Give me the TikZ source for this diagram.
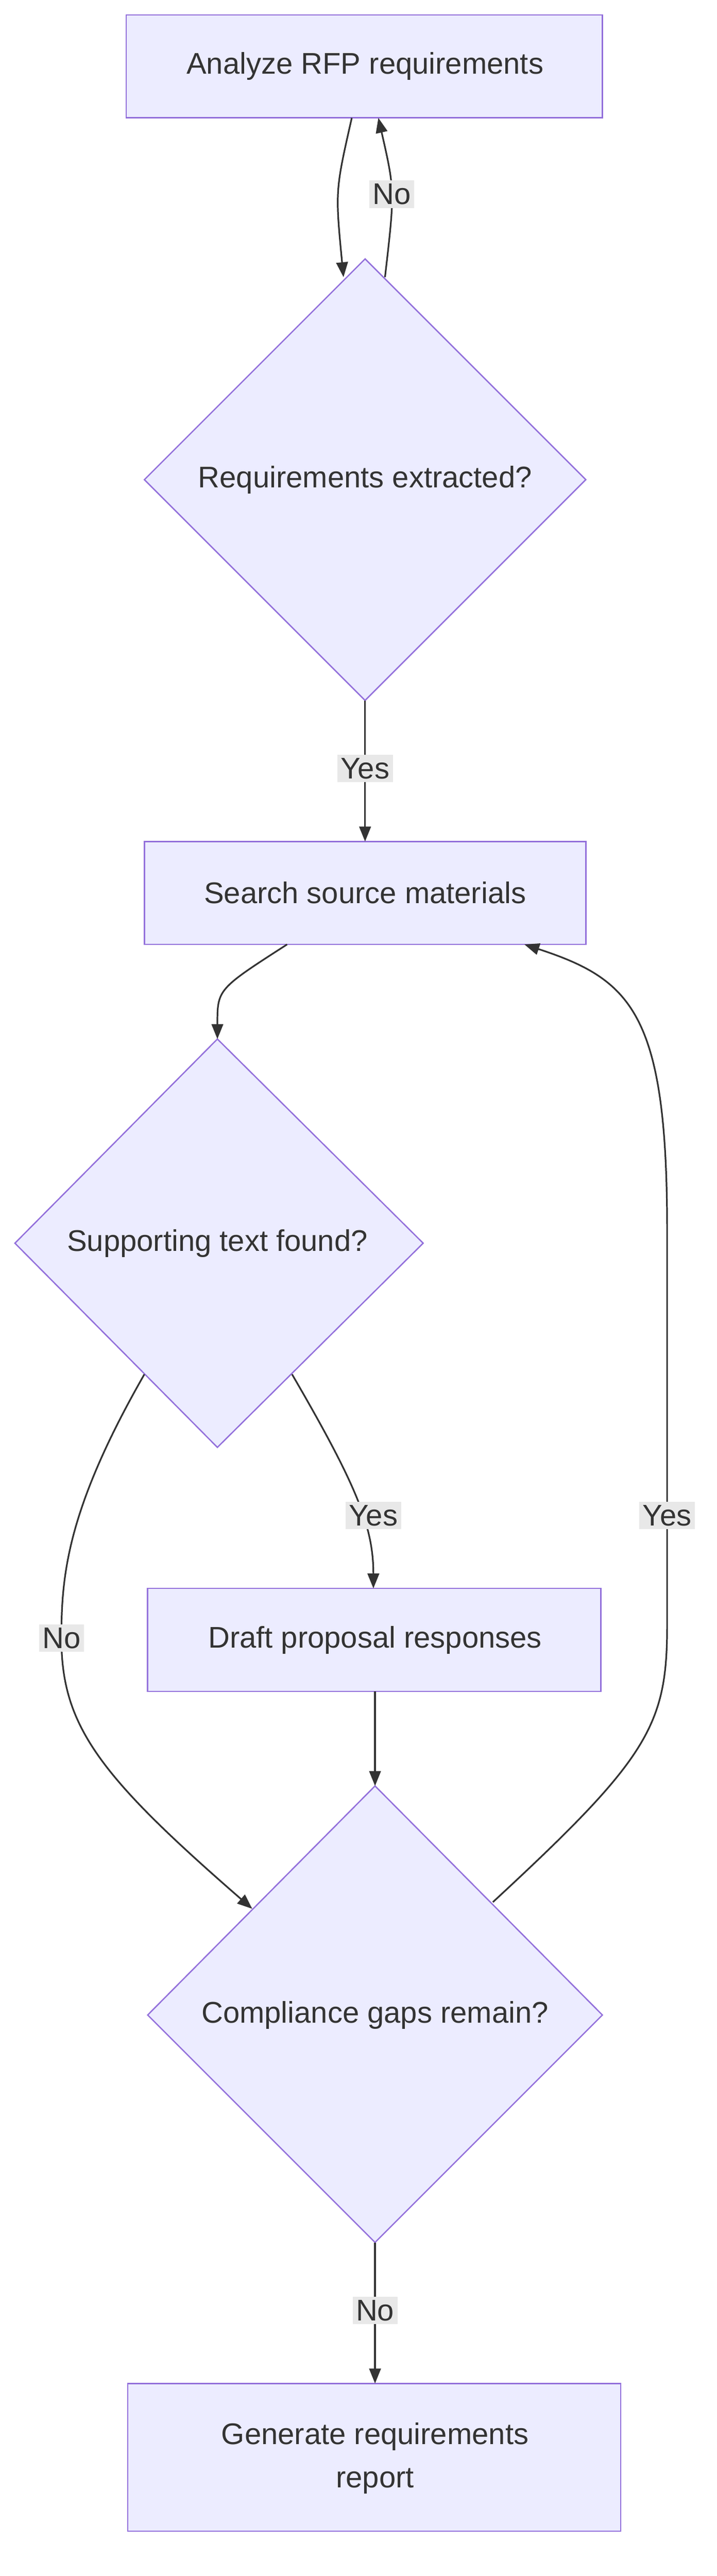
\documentclass[tikz,border=0pt]{standalone}
\usepackage{fontspec}
\setmainfont{Liberation Sans}
\usetikzlibrary{shapes.geometric,arrows.meta}
\definecolor{boxfill}{HTML}{ECECFF}
\definecolor{boxline}{HTML}{9370DB}
\definecolor{edge}{HTML}{333333}
\definecolor{lblbg}{HTML}{E8E8E8}
\begin{document}
\begin{tikzpicture}[x=1pt,y=-1pt,
  every node/.style={font=\fontsize{18}{26}\selectfont,text=edge},
  stage/.style={draw=boxline,fill=boxfill,line width=0.8pt,inner sep=0pt},
  lbl/.style={fill=lblbg,inner sep=2pt},
  flow/.style={draw=edge,line width=1pt,-{Triangle[length=9pt,width=7pt]}}]
  \useasboundingbox (0,0) rectangle (432,1552);

  % Steps
  \draw[stage] (76,9) rectangle (363,71);
  \node (analyze) at (220,40) {Analyze RFP requirements};
  \draw[stage] (220,156) -- (353,289) -- (220,422) -- (87,289) -- cycle;
  \node (extracted) at (220,289) {Requirements extracted?};
  \draw[stage] (87,507) rectangle (353,569);
  \node (search) at (220,538) {Search source materials};
  \draw[stage] (131,626) -- (255,749) -- (131,872) -- (9,749) -- cycle;
  \node (found) at (131,749) {Supporting text found?};
  \draw[stage] (89,957) rectangle (362,1019);
  \node (draft) at (226,988) {Draft proposal responses};
  \draw[stage] (226,1076) -- (363,1214) -- (226,1351) -- (89,1214) -- cycle;
  \node (gaps) at (226,1214) {Compliance gaps remain?};
  \draw[stage] (77,1436) rectangle (374,1525);
  \node[align=center] (report) at (226,1481) {Generate requirements\\report};

  % Anchor points
  \coordinate (a1) at (212,71);   \coordinate (e1) at (207,167);
  \coordinate (e2) at (232,167);  \coordinate (a2) at (228,71);
  \coordinate (e3) at (220,422);  \coordinate (s1) at (220,507);
  \coordinate (s2) at (173,569);  \coordinate (f1) at (131,626);
  \coordinate (f2) at (176,828);  \coordinate (d1) at (225,957);
  \coordinate (f3) at (87,828);   \coordinate (g1) at (152,1150);
  \coordinate (d2) at (226,1019); \coordinate (g2) at (226,1076);
  \coordinate (g3) at (297,1146); \coordinate (s3) at (316,569);
  \coordinate (g4) at (226,1351); \coordinate (r1) at (226,1436);

  % Edges
  \draw[flow] (a1) .. controls (202,115) .. (e1);
  \draw[flow] (e2) .. controls (238,115) .. (a2);
  \node[lbl] (no1) at (236,117) {No};
  \draw[flow] (e3) -- (s1);
  \node[lbl] (yes1) at (220,463) {Yes};
  \draw[flow] (s2) .. controls (131,596) .. (f1);
  \draw[flow] (f2) .. controls (215,895) and (225,920) .. (d1);
  \node[lbl] (yes2) at (225,913) {Yes};
  \draw[flow] (f3) .. controls (40,910) and (37,950) .. (37,987)
    .. controls (37,1040) and (60,1070) .. (g1);
  \node[lbl] (no2) at (37,987) {No};
  \draw[flow] (d2) -- (g2);
  \draw[flow] (g3) .. controls (390,1060) and (402,1040) .. (402,980)
    -- (402,740) .. controls (402,610) and (380,590) .. (s3);
  \node[lbl] (yes3) at (402,913) {Yes};
  \draw[flow] (g4) -- (r1);
  \node[lbl] (no3) at (226,1392) {No};
\end{tikzpicture}
\end{document}
